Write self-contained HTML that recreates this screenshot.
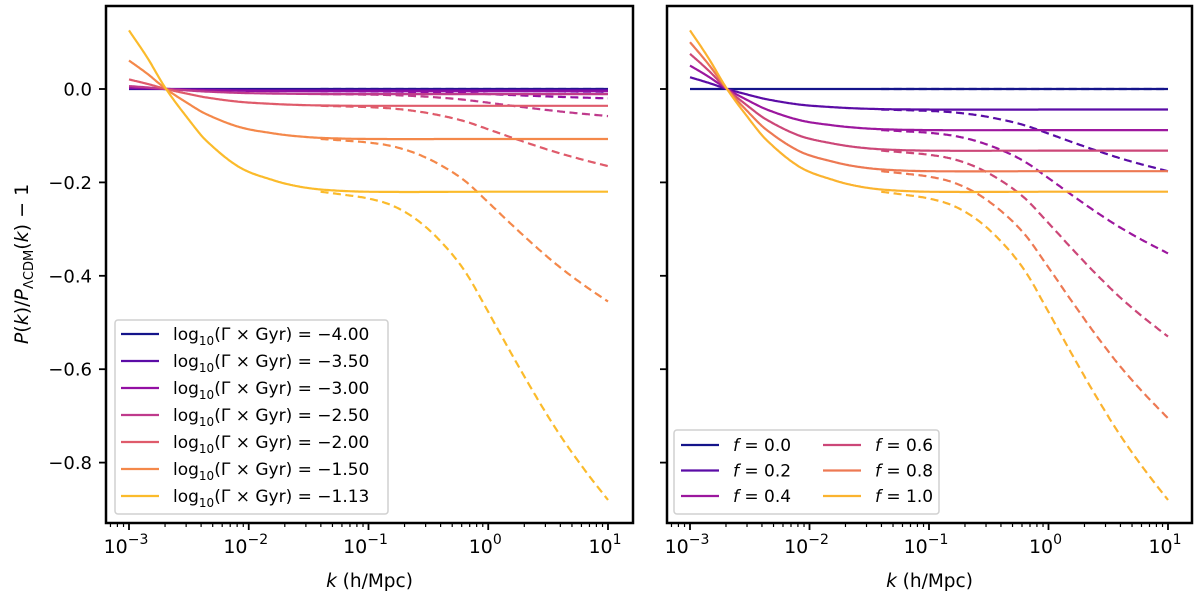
<!DOCTYPE html>
<html><head><meta charset="utf-8"><style>
html,body{margin:0;padding:0;background:#fff;}
svg{display:block;font-family:"DejaVu Sans","Liberation Sans",sans-serif;}
</style></head><body>
<svg id="fig" width="1200" height="603" viewBox="0 0 1200 603" xmlns="http://www.w3.org/2000/svg"></svg>
<script>
// ---- data ----
const gammaLabels = ["\u22124.00","\u22123.50","\u22123.00","\u22122.50","\u22122.00","\u22121.50","\u22121.13"];
const gammaColors = ["#14148a","#5b0ca6","#930fa3","#bf3a8c","#df5b6b","#f4884a","#fbbb2b"];
const gammaSolidFinal = [0.0,-0.002,-0.005,-0.011,-0.036,-0.107,-0.22];
const gammaDashedEnd = [0.0,-0.006,-0.02,-0.058,-0.165,-0.455,-0.88];
const fLabels = ["0.0","0.2","0.4","0.6","0.8","1.0"];
const fColors = ["#14148a","#5b0ca6","#9c179e","#cc4778","#ed7953","#fbb32f"];
const fSolidFinal = [0.0,-0.044,-0.088,-0.132,-0.176,-0.22];
const fDashedEnd = [0.0,-0.176,-0.352,-0.53,-0.705,-0.88];
// normalized solid shape (fraction of final value) vs log10 k
const solidLogK = [-3,-2.85,-2.69,-2.5,-2.357,-2.08,-1.8,-1.6,-1.38,-1.0,0,1];
const solidShape = [-0.57,-0.31,0,0.30,0.5,0.76,0.886,0.945,0.98,1,1,1];
// normalized extra dashed drop vs log10 k
const dashLogK = [-1.4,-1.2,-1.0,-0.8,-0.6,-0.4,-0.2,0,0.2,0.4,0.6,0.8,1];
const dashShape = [0,0.01,0.022,0.045,0.09,0.16,0.255,0.39,0.53,0.665,0.79,0.9,1];
const yTicks = [0.0,-0.2,-0.4,-0.6,-0.8];
const yTickLabels = ["0.0","\u22120.2","\u22120.4","\u22120.6","\u22120.8"];
const xDecades = [-3,-2,-1,0,1];
const xTickSup = ["\u22123","\u22122","\u22121","0","1"];

const NS="http://www.w3.org/2000/svg";
const svg=document.getElementById('fig');
function el(tag,attrs,parent){const e=document.createElementNS(NS,tag);for(const k in attrs)e.setAttribute(k,attrs[k]);(parent||svg).appendChild(e);return e;}
function interp(xs,ys,x){
  if(x<=xs[0])return ys[0];
  const n=xs.length;if(x>=xs[n-1])return ys[n-1];
  let i=1;while(x>xs[i])i++;
  const x0=xs[i-1],x1=xs[i],y0=ys[i-1],y1=ys[i];
  const h=x1-x0,t=(x-x0)/h;
  const m0=i-2>=0?(ys[i]-ys[i-2])/(xs[i]-xs[i-2]):(y1-y0)/h;
  const m1=i+1<n?(ys[i+1]-ys[i-1])/(xs[i+1]-xs[i-1]):(y1-y0)/h;
  const t2=t*t,t3=t2*t;
  return (2*t3-3*t2+1)*y0+(t3-2*t2+t)*h*m0+(-2*t3+3*t2)*y1+(t3-t2)*h*m1;
}
const Y=v=>89-v*467;

function panel(name,x0,x1,xk0,xk1,finals,ends,colors){
  const g=el('g',{});
  
  
  const X=lk=>xk0+(lk+3)*(xk1-xk0)/4;
  for(let i=0;i<finals.length;i++){
    let d='';
    for(let lk=-3;lk<=1.0001;lk+=0.01){d+=(d?'L':'M')+X(lk).toFixed(1)+','+Y(finals[i]*interp(solidLogK,solidShape,lk)).toFixed(1);}
    const p=el('path',{d:d,fill:'none',stroke:colors[i],'stroke-width':2.2,'stroke-linejoin':'round'},g);
    
    
    let d2='';
    for(let lk=-1.4;lk<=1.0001;lk+=0.01){const v=finals[i]+(ends[i]-finals[i])*Math.max(0,interp(dashLogK,dashShape,lk));d2+=(d2?'L':'M')+X(lk).toFixed(1)+','+Y(v).toFixed(1);}
    const p2=el('path',{d:d2,fill:'none',stroke:colors[i],'stroke-width':2.2,'stroke-dasharray':'8,4.5'},g);
    
    
  }
  const fr=el('rect',{x:x0,y:6,width:x1-x0,height:517,fill:'none',stroke:'#000','stroke-width':2.5},g);
  
  
  yTicks.forEach((v,i)=>{
    el('line',{x1:x0-7,x2:x0,y1:Y(v),y2:Y(v),stroke:'#000','stroke-width':1.8},g);
    if(name==='left-panel'){const t=el('text',{x:x0-14,y:Y(v)+6.5,'text-anchor':'end','font-size':18},g);t.textContent=yTickLabels[i];
      }
  });
  for(let dec=-4;dec<=1;dec++){for(let m=2;m<=9;m++){const lk=dec+Math.log10(m);const xx=X(lk);if(xx<x0+2||xx>x1-2)continue;el('line',{x1:xx,x2:xx,y1:523,y2:527,stroke:'#000','stroke-width':1.2},g);}}
  xDecades.forEach((lk,i)=>{
    el('line',{x1:X(lk),x2:X(lk),y1:523,y2:530,stroke:'#000','stroke-width':1.8},g);
    const t=el('text',{x:X(lk)-3,y:553,'text-anchor':'middle','font-size':19},g);
    
    t.appendChild(document.createTextNode('10'));
    const s=el('tspan',{dy:-9,'font-size':14},t);s.textContent=xTickSup[i];
  });
  const xl=el('text',{x:(x0+x1)/2,y:587,'text-anchor':'middle','font-size':18.5},g);
  
  const ki=el('tspan',{'font-style':'italic'},xl);ki.textContent='k';
  xl.appendChild(document.createTextNode(' (h/Mpc)'));
}
panel('left-panel',106,633,129,608,gammaSolidFinal,gammaDashedEnd,gammaColors);
panel('right-panel',667,1192,690,1168,fSolidFinal,fDashedEnd,fColors);

const yl=el('text',{x:0,y:0,'text-anchor':'middle','font-size':19,transform:'translate(28,264) rotate(-90)'});

(function(){const a=el('tspan',{'font-style':'italic'},yl);a.textContent='P';yl.appendChild(document.createTextNode('('));
const b=el('tspan',{'font-style':'italic'},yl);b.textContent='k';yl.appendChild(document.createTextNode(')/'));
const c=el('tspan',{'font-style':'italic'},yl);c.textContent='P';const s=el('tspan',{'font-size':13,dy:5},yl);s.textContent='\u039BCDM';
const r=el('tspan',{dy:-5},yl);r.textContent='(';const k2=el('tspan',{'font-style':'italic'},yl);k2.textContent='k';yl.appendChild(document.createTextNode(') \u2212 1'));})();

const lg=el('g',{});

el('rect',{x:115,y:320,width:273,height:194,rx:3,fill:'#fff','fill-opacity':0.85,stroke:'#d0d0d0','stroke-width':1.5},lg);
gammaLabels.forEach((lab,i)=>{
  const yy=334+i*27;
  const ln=el('line',{x1:121,x2:159,y1:yy,y2:yy,stroke:gammaColors[i],'stroke-width':2.2},lg);
  
  const t=el('text',{x:173,y:yy+6,'font-size':17},lg);
  
  t.appendChild(document.createTextNode('log'));
  const s=el('tspan',{dy:5,'font-size':12},t);s.textContent='10';
  const r=el('tspan',{dy:-5},t);r.textContent='(\u0393 \u00d7 Gyr) = '+lab;
});
const rg=el('g',{});

el('rect',{x:674,y:430,width:265,height:84,rx:3,fill:'#fff','fill-opacity':0.85,stroke:'#d0d0d0','stroke-width':1.5},rg);
fLabels.forEach((lab,i)=>{
  const col=Math.floor(i/3),row=i%3;const yy=445+row*25.5;const lx=681+col*142;
  const ln=el('line',{x1:lx,x2:lx+38,y1:yy,y2:yy,stroke:fColors[i],'stroke-width':2.2},rg);
  
  const t=el('text',{x:lx+52,y:yy+6,'font-size':17},rg);
  
  const fi=el('tspan',{'font-style':'italic'},t);fi.textContent='f';
  t.appendChild(document.createTextNode(' = '+lab));
});
</script>
</body></html>
